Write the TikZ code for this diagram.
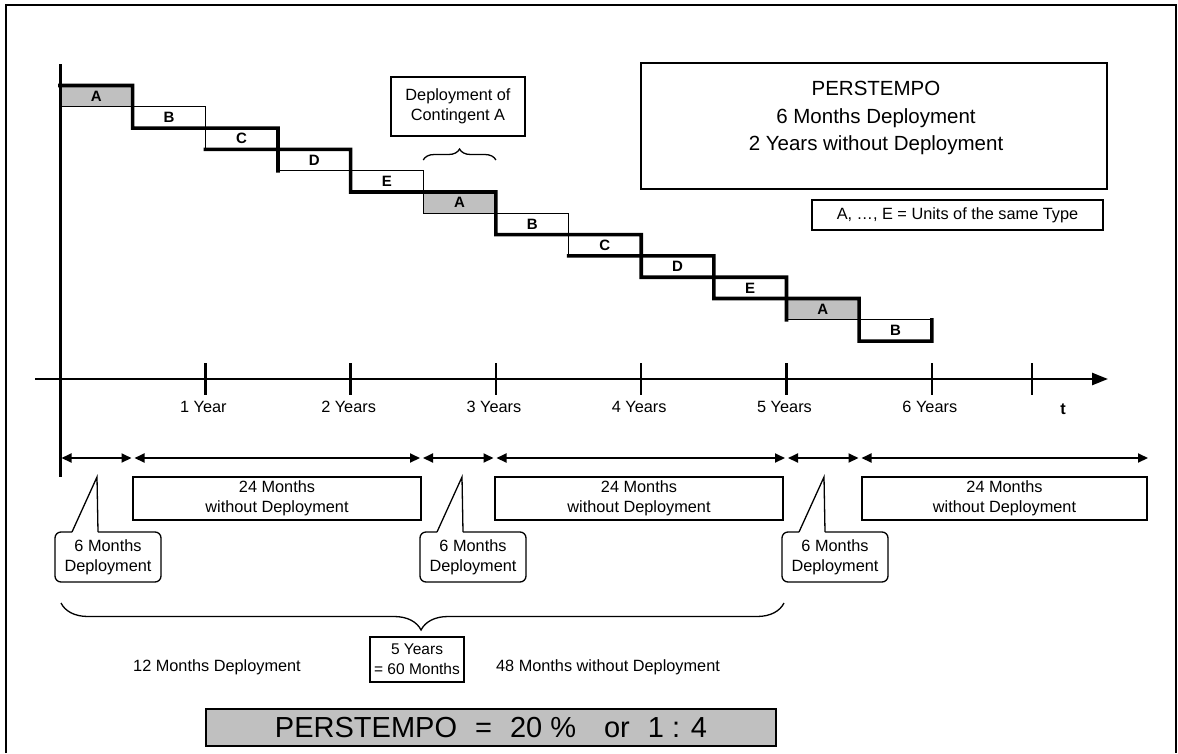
\documentclass[tikz,border=0pt]{standalone}
\usepackage{fontspec}
\setmainfont{Liberation Sans}
\usetikzlibrary{arrows.meta,positioning,decorations.pathreplacing}
\definecolor{unitgray}{HTML}{C0C0C0}
\tikzset{
  thinln/.style={line width=1.3pt},
  thickln/.style={line width=3.6pt,line join=miter,line cap=rect},
  unit/.style={draw,line width=1.3pt,minimum width=72.65pt,minimum height=21.3pt,inner sep=0pt,outer sep=0pt,font=\fontsize{15}{17}\selectfont\bfseries},
  box/.style={draw,line width=1.3pt,align=center,inner sep=0pt,outer sep=0pt,font=\fontsize{16.3}{20}\selectfont},
  callbox/.style={box,rounded corners=6pt,minimum width=106pt,minimum height=50pt,fill=white},
  dim/.style={line width=2pt,{Triangle[length=10pt,width=9pt]}-{Triangle[length=10pt,width=9pt]}},
  ax/.style={line width=2.5pt,-{Triangle[length=16pt,width=12pt]}},
  tickln/.style={line width=2.5pt},
  lab/.style={font=\fontsize{16.3}{19}\selectfont,inner sep=0pt}
}
\begin{document}
\begin{tikzpicture}[x=1pt,y=-1pt]
\useasboundingbox (0,0) rectangle (1178,753);
% frame
\draw[line width=2pt] (6,753) -- (6,5) -- (1176,5) -- (1176,753);

% units A..E, one half year each
\foreach \u/\f [count=\k from 0] in {A/unitgray,B/white,C/white,D/white,E/white,A/unitgray,B/white,C/white,D/white,E/white,A/unitgray,B/white}
  \node[unit,fill=\f] (u\k) at ({60+72.65*(\k+0.5)},{85.5+21.3*(\k+0.5)}) {\u};
\draw[thickln] (u0.north west) -- (u0.north east) -- (u1.south west) -- (u2.north east) -- (u3.south west);
\draw[thickln] (u2.south west) -- (u3.north east) -- (u4.south west) -- (u5.north east) -- (u6.south west)
  -- (u7.north east) -- (u8.south west) -- (u9.north east) -- (u10.south west);
\draw[thickln] (u7.south west) -- (u8.north east) -- (u9.south west) -- (u10.north east) -- (u11.south west)
  -- (u11.south east) -- (u11.north east);

% time axis
\draw[line width=3pt] (60,64) -- (60,477);
\draw[ax] (35,379) -- (1108,379);
\foreach \i/\lab in {1/1 Year,2/2 Years,3/3 Years,4/4 Years,5/5 Years,6/6 Years} {
  \draw[tickln] ({60+145.3*\i},363) -- ({60+145.3*\i},395);
  \node[lab] (yr\i) at ({58+145.3*\i},407) {\lab};
}
\draw[tickln] (1032,363) -- (1032,395);
\node[lab,font=\fontsize{16.3}{19}\selectfont\bfseries] (tlab) at (1063,409) {t};

% contingent A
\node[box,minimum width=134pt,minimum height=59pt] (contA) at (458,106.5) {Deployment of\\Contingent A};
\draw[thinln,decorate,decoration={brace,amplitude=11pt}] ([yshift=32pt]u5.north west) -- ([yshift=32pt]u5.north east);

% legend boxes
\node[box,minimum width=466pt,minimum height=126pt] (ptbox) at (874,126) {};
\node[font=\fontsize{20.5}{27.5}\selectfont,align=center] (pttxt) at (876,118) {PERSTEMPO\\6 Months Deployment\\2 Years without Deployment};
\node[box,minimum width=291pt,minimum height=30pt] (legend) at (957.5,215) {A, …, E = Units of the same Type};

% periods
\coordinate (m0) at (61.5,458);
\coordinate (m1) at (133,458);
\coordinate (m2) at (421.5,458);
\coordinate (m3) at (495,458);
\coordinate (m4) at (786.5,458);
\coordinate (m5) at (860,458);
\coordinate (m6) at (1148,458);
\draw[dim] (m0) -- ([xshift=-1.5pt]m1);
\foreach \p/\q in {1/2,2/3,3/4,4/5}
  \draw[dim] ([xshift=1.5pt]m\p) -- ([xshift=-1.5pt]m\q);
\draw[dim] ([xshift=1.5pt]m5) -- (m6);

\node[box,minimum width=288pt,minimum height=43pt] (w1) at (277,498.5) {24 Months\\without Deployment};
\node[box,minimum width=288pt,minimum height=43pt] (w2) at (639,498.5) {24 Months\\without Deployment};
\node[box,minimum width=285pt,minimum height=43pt] (w3) at (1004.5,498.5) {24 Months\\without Deployment};

\foreach \n/\cx in {1/108,2/473,3/835} {
  \node[callbox] (c\n) at (\cx,557) {6 Months\\Deployment};
  \coordinate (tp\n) at ([xshift=42pt,yshift=55pt]c\n.north west);
  \fill[white] ([xshift=17pt,yshift=-1pt]c\n.north west) -- (tp\n) -- ([xshift=43pt,yshift=-1pt]c\n.north west) -- cycle;
  \draw[thinln] ([xshift=17pt]c\n.north west) -- (tp\n) -- ([xshift=43pt]c\n.north west);
}

% five years
\coordinate (br0) at (61,603);
\coordinate (br1) at (784,603);
\draw[thinln,decorate,decoration={brace,mirror,amplitude=27pt,aspect=0.498}] (br0) -- (br1);
\node[lab] (dep12) at (217,667) {12 Months Deployment};
\node[box,minimum width=94pt,minimum height=45pt,font=\fontsize{15.5}{20}\selectfont] (fy) at (417,659.5) {5 Years\\= 60 Months};
\node[lab] (nodep48) at (608,667) {48 Months without Deployment};

\node[box,fill=unitgray,minimum width=570pt,minimum height=37pt,font=\fontsize{29}{31}\selectfont] (ratio) at (491,727.5) {PERSTEMPO\hspace{18pt}=\hspace{18pt}20 \%\hspace{28pt}or\hspace{18pt}1 : 4};
\end{tikzpicture}
\end{document}
